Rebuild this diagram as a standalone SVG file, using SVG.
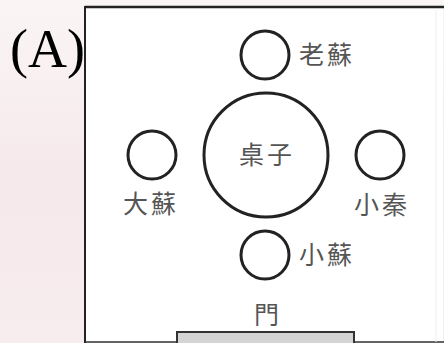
<svg xmlns="http://www.w3.org/2000/svg" width="444" height="343" viewBox="0 0 444 343">
<style>
.seat{fill:#fff;stroke:#222;stroke-width:3}
.lbl{font-family:"Noto Sans CJK TC","Noto Sans CJK SC",sans-serif;font-size:25px;fill:#555;letter-spacing:3px}
</style>
<defs>
<linearGradient id="bg" x1="0" y1="0" x2="0" y2="1">
<stop offset="0" stop-color="#faf5f5"/>
<stop offset="0.5" stop-color="#f6e9ec"/>
<stop offset="1" stop-color="#f7ecee"/>
</linearGradient>
</defs>
<rect x="0" y="0" width="444" height="343" fill="url(#bg)"/>
<text x="10" y="67" font-family="Liberation Serif, serif" font-size="54" fill="#000">(A)</text>
<g id="room">
<rect x="85" y="7" width="358" height="335" fill="#fff"/>
<line x1="85" y1="7" x2="444" y2="7" stroke="#222" stroke-width="2.5"/>
<line x1="85" y1="6" x2="85" y2="343" stroke="#222" stroke-width="2"/>
<line x1="85" y1="342" x2="444" y2="342" stroke="#333" stroke-width="1.5"/>
<line x1="436" y1="10" x2="436" y2="342" stroke="#eee" stroke-width="1"/>
</g>
<g id="connectors"/>
<g id="laosu">
<circle class="seat" cx="265" cy="55" r="24"/>
<text class="lbl" x="299" y="64">老蘇</text>
</g>
<g id="table">
<circle class="seat" cx="266" cy="155" r="62"/>
<text class="lbl" x="239" y="164">桌子</text>
</g>
<g id="dasu">
<circle class="seat" cx="152" cy="155" r="24"/>
<text class="lbl" x="123" y="213">大蘇</text>
</g>
<g id="xiaoqin">
<circle class="seat" cx="380" cy="155" r="24"/>
<text class="lbl" x="354" y="214">小秦</text>
</g>
<g id="xiaosu">
<circle class="seat" cx="265" cy="255" r="24"/>
<text class="lbl" x="299" y="264">小蘇</text>
</g>
<g id="door">
<text class="lbl" x="254" y="324" style="letter-spacing:0">門</text>
<rect x="177" y="332" width="177" height="14" fill="#d4d4d4" stroke="#333" stroke-width="2"/>
</g>
</svg>
